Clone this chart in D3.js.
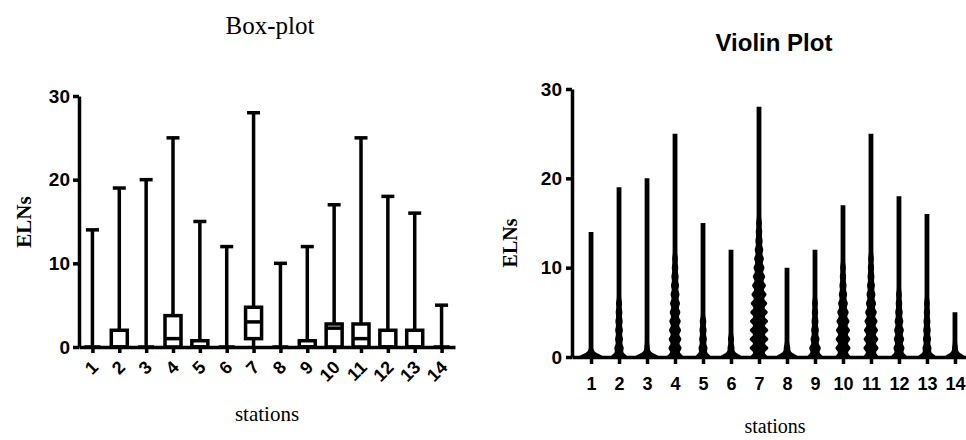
<!DOCTYPE html>
<html lang="en">
<head>
    <meta charset="UTF-8">
    <title>Box-plot and Violin Plot of ELNs by station</title>
    <style>
        body {
            margin: 0;
            background-color: white;
        }

        svg {
            display: block;
        }

        .axis path,
        .axis line {
            stroke: black;
            stroke-width: 3.5px;
        }

        .axis text {
            font-family: "Liberation Sans", Arial, sans-serif;
            font-weight: bold;
            font-size: 19px;
            fill: black;
        }

        .axis.xvio text {
            font-size: 18px;
        }

        .axis.xbox text {
            font-size: 18px;
        }

        .serif-label {
            font-family: "Liberation Serif", "Times New Roman", serif;
            fill: black;
        }

        .box-part {
            stroke: black;
            stroke-width: 3.5px;
        }
    </style>
    <script src="https://cdn.jsdelivr.net/npm/d3@7"></script>
</head>
<body>

<script>
    // stations on the x axis
    const stations = ["1", "2", "3", "4", "5", "6", "7", "8", "9", "10", "11", "12", "13", "14"];
    const yTicks = [0, 10, 20, 30];

    // box-plot summary per station (min is 0 everywhere)
    const maxVals    = [14, 19, 20, 25, 15, 12, 28, 10, 12, 17, 25, 18, 16, 5];
    const q1Vals     = [0, 0, 0, 0, 0, 0, 1, 0, 0, 0, 0, 0, 0, 0];
    const medianVals = [0, 0, 0, 1, 0, 0, 3, 0, 0, 2.25, 1, 0, 0, 0];
    const q3Vals     = [0, 2, 0, 3.75, 0.75, 0, 4.75, 0, 0.75, 2.75, 2.75, 2, 2, 0];

    // violin: relative density at ELNs = 0, 1, 2, ... for each station
    const violinDensity = [
        [0.95],
        [0.58, 0.22, 0.15, 0.14, 0.12, 0.09, 0.06],
        [0.95, 0.04],
        [0.58, 0.4, 0.38, 0.35, 0.32, 0.28, 0.25, 0.2, 0.16, 0.12, 0.08, 0.05],
        [0.52, 0.2, 0.14, 0.11, 0.08],
        [0.82, 0.1, 0.06],
        [0.6, 0.68, 0.68, 0.67, 0.65, 0.62, 0.57, 0.5, 0.44, 0.37, 0.3, 0.24, 0.18, 0.12, 0.08, 0.05],
        [0.85, 0.08],
        [0.52, 0.33, 0.2, 0.14, 0.1, 0.07, 0.05],
        [0.5, 0.5, 0.48, 0.45, 0.4, 0.32, 0.24, 0.17, 0.11, 0.07, 0.05],
        [0.5, 0.5, 0.48, 0.45, 0.4, 0.33, 0.26, 0.2, 0.15, 0.1, 0.07, 0.05],
        [0.55, 0.3, 0.27, 0.24, 0.19, 0.13, 0.08, 0.05],
        [0.65, 0.2, 0.16, 0.13, 0.1, 0.07, 0.05],
        [0.75, 0.05]
    ];

    const width = 966;
    const height = 440;

    const svg = d3.select("body")
                  .append("svg")
                  .attr("width", width)
                  .attr("height", height);

    // ---------- left: box-plot ----------
    const xBox = d3.scalePoint().domain(stations).range([79, 455]).padding(0.5);
    const yBox = d3.scaleLinear().domain([0, 30]).range([347, 96]);

    const boxGroup = svg.append("g");
    const boxData = stations.map((s, i) => ({
        s: s, max: maxVals[i], q1: q1Vals[i], med: medianVals[i], q3: q3Vals[i]
    }));

    const boxW = 16, capW = 13;

    // whisker from 0 to max
    boxGroup.selectAll(".whisker")
            .data(boxData)
            .enter()
            .append("line")
            .attr("class", "box-part")
            .attr("x1", d => xBox(d.s))
            .attr("x2", d => xBox(d.s))
            .attr("y1", yBox(0))
            .attr("y2", d => yBox(d.max));

    boxGroup.selectAll(".cap")
            .data(boxData)
            .enter()
            .append("line")
            .attr("class", "box-part")
            .attr("x1", d => xBox(d.s) - capW / 2)
            .attr("x2", d => xBox(d.s) + capW / 2)
            .attr("y1", d => yBox(d.max))
            .attr("y2", d => yBox(d.max));

    boxGroup.selectAll(".box")
            .data(boxData)
            .enter()
            .append("rect")
            .attr("class", "box-part")
            .attr("fill", "white")
            .attr("x", d => xBox(d.s) - boxW / 2)
            .attr("width", boxW)
            .attr("y", d => yBox(d.q3))
            .attr("height", d => yBox(d.q1) - yBox(d.q3));

    boxGroup.selectAll(".median")
            .data(boxData)
            .enter()
            .append("line")
            .attr("class", "box-part")
            .attr("x1", d => xBox(d.s) - boxW / 2)
            .attr("x2", d => xBox(d.s) + boxW / 2)
            .attr("y1", d => yBox(d.med))
            .attr("y2", d => yBox(d.med));

    svg.append("g")
       .attr("class", "axis")
       .attr("transform", `translate(79,0)`)
       .call(d3.axisLeft(yBox).tickValues(yTicks).tickSize(6).tickPadding(3).tickSizeOuter(0));

    const xAxisBox = svg.append("g")
       .attr("class", "axis xbox")
       .attr("transform", `translate(0,${yBox(0)})`)
       .call(d3.axisBottom(xBox).tickSize(6).tickSizeOuter(0));

    xAxisBox.selectAll("text")
            .attr("text-anchor", "end")
            .attr("x", null)
            .attr("y", null)
            .attr("dy", "0.35em")
            .attr("transform", "translate(2,17) rotate(-45)");

    svg.append("text")
       .attr("class", "serif-label")
       .attr("x", 270)
       .attr("y", 34)
       .attr("text-anchor", "middle")
       .style("font-size", "25px")
       .text("Box-plot");

    svg.append("text")
       .attr("class", "serif-label")
       .attr("x", 267)
       .attr("y", 421)
       .attr("text-anchor", "middle")
       .style("font-size", "21px")
       .text("stations");

    svg.append("text")
       .attr("class", "serif-label")
       .attr("transform", "translate(31,222) rotate(-90)")
       .attr("text-anchor", "middle")
       .style("font-size", "21px")
       .style("font-weight", "bold")
       .text("ELNs");

    // ---------- right: violin plot ----------
    const xVio = d3.scalePoint().domain(stations).range([572, 974]).padding(0.68);
    const yVio = d3.scaleLinear().domain([0, 30]).range([357, 89]);
    const halfW = d3.scaleLinear().domain([0, 1]).range([2.4, 12.5]);
    const bandwidth = 0.31;

    function densityAt(dens, v) {
        let sum = 0;
        dens.forEach((c, k) => {
            sum += c * Math.exp(-((v - k) * (v - k)) / (2 * bandwidth * bandwidth));
        });
        return sum;
    }

    const violinData = stations.map((s, i) => {
        const pts = [];
        const top = maxVals[i];
        for (let v = 0; v < top; v += 0.02) {
            pts.push({ v: v, d: densityAt(violinDensity[i], v) });
        }
        pts.push({ v: top, d: densityAt(violinDensity[i], top) });
        return { s: s, pts: pts };
    });

    const violinGroup = svg.append("g");

    violinGroup.selectAll(".violin")
               .data(violinData)
               .enter()
               .append("path")
               .attr("fill", "black")
               .attr("d", d => d3.area()
                                 .x0(p => xVio(d.s) - halfW(p.d))
                                 .x1(p => xVio(d.s) + halfW(p.d))
                                 .y(p => yVio(p.v))(d.pts));

    svg.append("g")
       .attr("class", "axis")
       .attr("transform", `translate(572,0)`)
       .call(d3.axisLeft(yVio).tickValues(yTicks).tickSize(6).tickPadding(4).tickSizeOuter(0));

    svg.append("g")
       .attr("class", "axis xvio")
       .attr("transform", `translate(0,${yVio(0)})`)
       .call(d3.axisBottom(xVio).tickSize(7).tickPadding(13).tickSizeOuter(0));

    svg.append("text")
       .attr("x", 774)
       .attr("y", 51)
       .attr("text-anchor", "middle")
       .style("font-family", "'Liberation Sans', Arial, sans-serif")
       .style("font-weight", "bold")
       .style("font-size", "24px")
       .text("Violin Plot");

    svg.append("text")
       .attr("class", "serif-label")
       .attr("x", 775)
       .attr("y", 433)
       .attr("text-anchor", "middle")
       .style("font-size", "20px")
       .text("stations");

    svg.append("text")
       .attr("class", "serif-label")
       .attr("transform", "translate(517,243) rotate(-90)")
       .attr("text-anchor", "middle")
       .style("font-size", "20px")
       .style("font-weight", "bold")
       .text("ELNs");
</script>

</body>
</html>
